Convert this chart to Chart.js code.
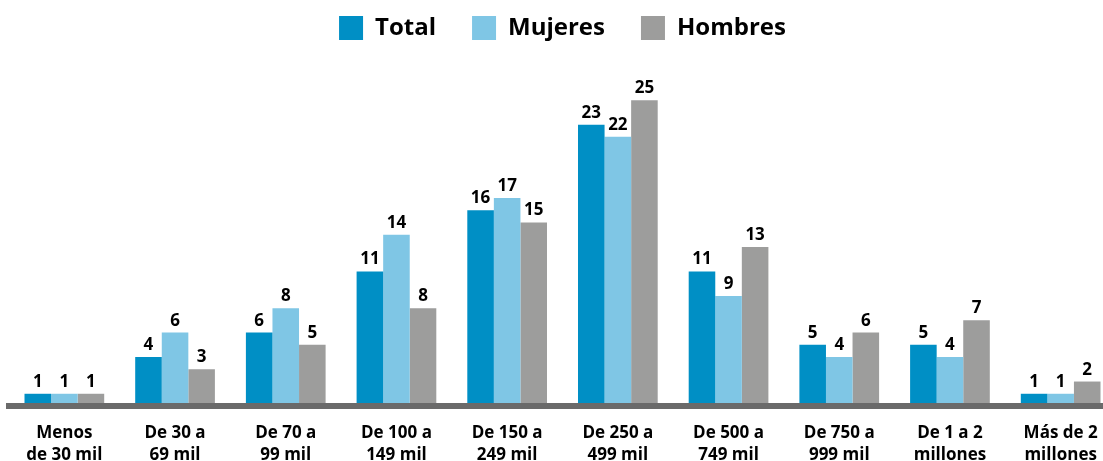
<!DOCTYPE html>
<html>
<head>
<meta charset="utf-8">
<script src="https://cdn.jsdelivr.net/npm/chart.js@4.4.1/dist/chart.umd.min.js"></script>
<style>
  html, body { margin: 0; padding: 0; background: #fff; overflow: hidden; }
  #wrap { position: absolute; left: 0; top: -20px; width: 1116px; height: 481px; }
</style>
</head>
<body>
<div id="wrap"><canvas id="chart"></canvas></div>
<script>
// rangos de ingreso
const categories = [
  ['Menos', 'de 30 mil'],
  ['De 30 a', '69 mil'],
  ['De 70 a', '99 mil'],
  ['De 100 a', '149 mil'],
  ['De 150 a', '249 mil'],
  ['De 250 a', '499 mil'],
  ['De 500 a', '749 mil'],
  ['De 750 a', '999 mil'],
  ['De 1 a 2', 'millones'],
  ['Más de 2', 'millones'],
];

const total   = [1, 4, 6, 11, 16, 23, 11, 5, 5, 1];
const mujeres = [1, 6, 8, 14, 17, 22, 9, 4, 4, 1];
const hombres = [1, 3, 5, 8, 15, 25, 13, 6, 7, 2];

const FONT = '"Open Sans", "Noto Sans", sans-serif';

// etiquetas de valor encima de cada barra
const valueLabels = {
  id: 'valueLabels',
  afterDatasetsDraw(chart) {
    const { ctx } = chart;
    ctx.save();
    ctx.font = 'bold 17px ' + FONT;
    ctx.fillStyle = '#000';
    ctx.textAlign = 'center';
    ctx.textBaseline = 'alphabetic';
    chart.data.datasets.forEach((ds, i) => {
      chart.getDatasetMeta(i).data.forEach((bar, j) => {
        ctx.fillText(ds.data[j], bar.x, bar.y - 7);
      });
    });
    ctx.restore();
  },
};

const config = {
  type: 'bar',
  data: {
    labels: categories,
    datasets: [
      { label: 'Total', data: total, backgroundColor: '#008fc5' },
      { label: 'Mujeres', data: mujeres, backgroundColor: '#7fc6e5' },
      { label: 'Hombres', data: hombres, backgroundColor: '#9d9d9c' },
    ],
  },
  options: {
    responsive: true,
    maintainAspectRatio: false,
    animation: false,
    devicePixelRatio: 1,
    layout: { padding: { left: 9, right: 0, top: 0, bottom: 0 } },
    datasets: {
      bar: { categoryPercentage: 0.72, barPercentage: 1, borderWidth: 0 },
    },
    plugins: {
      legend: {
        position: 'top',
        labels: {
          boxWidth: 24,
          boxHeight: 24,
          padding: 36,
          color: '#000',
          font: { family: FONT, size: 24, weight: 'bold' },
        },
      },
      tooltip: { enabled: false },
    },
    scales: {
      x: {
        grid: { display: false, drawTicks: false },
        border: { display: true, color: '#6a6a6a', width: 6, z: 1 },
        ticks: {
          color: '#000',
          padding: 16,
          maxRotation: 0,
          autoSkip: false,
          font: { family: FONT, size: 17, weight: 'bold', lineHeight: 1.3 },
        },
        afterFit(scale) { scale.height = 55; },
      },
      y: {
        display: false,
        min: 0,
        max: 29.1,
      },
    },
  },
  plugins: [valueLabels],
};

const chart = new Chart(document.getElementById('chart').getContext('2d'), config);
</script>
</body>
</html>
